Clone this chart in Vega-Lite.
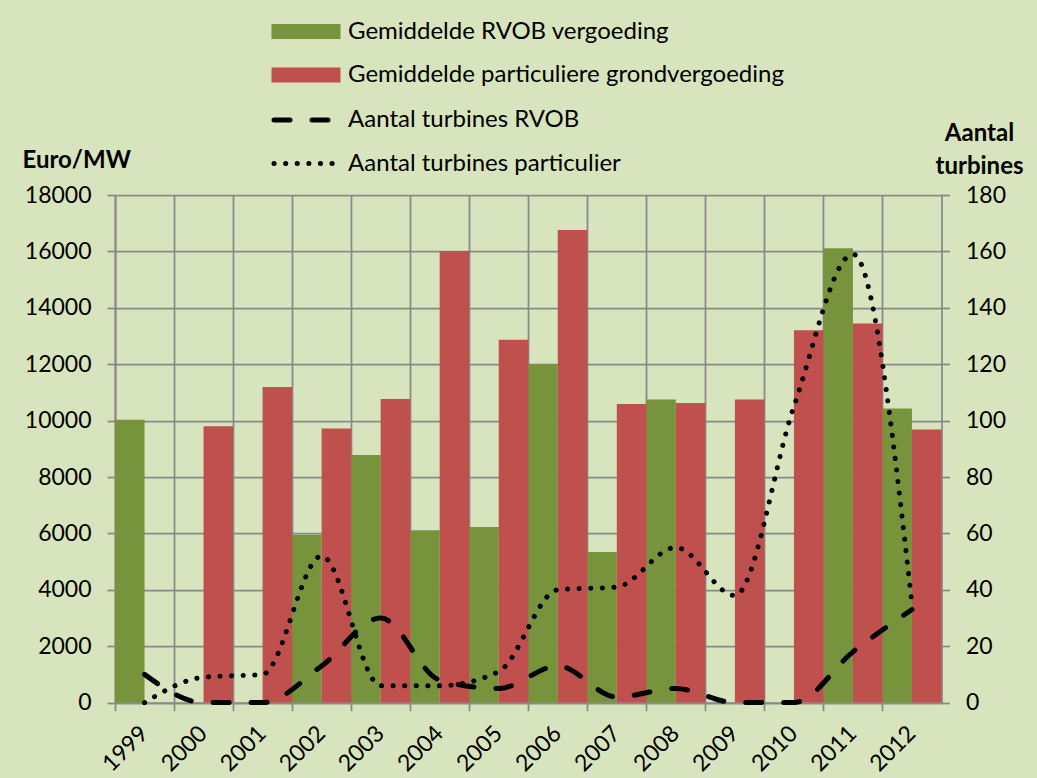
{
  "$schema": "https://vega.github.io/schema/vega-lite/v6.json",
  "width": 826.5,
  "height": 507.6,
  "autosize": "none",
  "padding": {"left": 115, "top": 195, "right": 95.5, "bottom": 75.4},
  "background": "#d7e4bd",
  "config": {
    "font": "Lato",
    "view": {"stroke": null},
    "axis": {
      "domainColor": "#898989",
      "tickColor": "#898989",
      "gridColor": "#898989",
      "domainWidth": 1.75,
      "tickWidth": 1.75,
      "gridWidth": 1.75,
      "gridOpacity": 1,
      "labelColor": "#000000",
      "labelFont": "Lato",
      "labelFontSize": 23,
      "titleColor": "#000000",
      "titleFont": "Lato"
    },
    "legend": {"labelFont": "Lato", "labelColor": "#000000", "labelLimit": 0}
  },
  "datasets": {
    "bars": [
      {"year": "1999", "series": "Gemiddelde RVOB vergoeding", "value": 10030},
      {"year": "2002", "series": "Gemiddelde RVOB vergoeding", "value": 5950},
      {"year": "2003", "series": "Gemiddelde RVOB vergoeding", "value": 8780},
      {"year": "2004", "series": "Gemiddelde RVOB vergoeding", "value": 6110},
      {"year": "2005", "series": "Gemiddelde RVOB vergoeding", "value": 6230},
      {"year": "2006", "series": "Gemiddelde RVOB vergoeding", "value": 12000},
      {"year": "2007", "series": "Gemiddelde RVOB vergoeding", "value": 5340},
      {"year": "2008", "series": "Gemiddelde RVOB vergoeding", "value": 10750},
      {"year": "2011", "series": "Gemiddelde RVOB vergoeding", "value": 16110},
      {"year": "2012", "series": "Gemiddelde RVOB vergoeding", "value": 10430},
      {"year": "2000", "series": "Gemiddelde particuliere grondvergoeding", "value": 9800},
      {"year": "2001", "series": "Gemiddelde particuliere grondvergoeding", "value": 11190},
      {"year": "2002", "series": "Gemiddelde particuliere grondvergoeding", "value": 9720},
      {"year": "2003", "series": "Gemiddelde particuliere grondvergoeding", "value": 10770},
      {"year": "2004", "series": "Gemiddelde particuliere grondvergoeding", "value": 16010},
      {"year": "2005", "series": "Gemiddelde particuliere grondvergoeding", "value": 12870},
      {"year": "2006", "series": "Gemiddelde particuliere grondvergoeding", "value": 16760},
      {"year": "2007", "series": "Gemiddelde particuliere grondvergoeding", "value": 10590},
      {"year": "2008", "series": "Gemiddelde particuliere grondvergoeding", "value": 10620},
      {"year": "2009", "series": "Gemiddelde particuliere grondvergoeding", "value": 10750},
      {"year": "2010", "series": "Gemiddelde particuliere grondvergoeding", "value": 13200},
      {"year": "2011", "series": "Gemiddelde particuliere grondvergoeding", "value": 13440},
      {"year": "2012", "series": "Gemiddelde particuliere grondvergoeding", "value": 9680}
    ],
    "lines": [
      {"year": "1999", "series": "Aantal turbines RVOB", "value": 10},
      {"year": "2000", "series": "Aantal turbines RVOB", "value": 0},
      {"year": "2001", "series": "Aantal turbines RVOB", "value": 0},
      {"year": "2002", "series": "Aantal turbines RVOB", "value": 13},
      {"year": "2003", "series": "Aantal turbines RVOB", "value": 30},
      {"year": "2004", "series": "Aantal turbines RVOB", "value": 8},
      {"year": "2005", "series": "Aantal turbines RVOB", "value": 5},
      {"year": "2006", "series": "Aantal turbines RVOB", "value": 13},
      {"year": "2007", "series": "Aantal turbines RVOB", "value": 2},
      {"year": "2008", "series": "Aantal turbines RVOB", "value": 5},
      {"year": "2009", "series": "Aantal turbines RVOB", "value": 0},
      {"year": "2010", "series": "Aantal turbines RVOB", "value": 0},
      {"year": "2011", "series": "Aantal turbines RVOB", "value": 18},
      {"year": "2012", "series": "Aantal turbines RVOB", "value": 33},
      {"year": "1999", "series": "Aantal turbines particulier", "value": 0},
      {"year": "2000", "series": "Aantal turbines particulier", "value": 9},
      {"year": "2001", "series": "Aantal turbines particulier", "value": 10},
      {"year": "2002", "series": "Aantal turbines particulier", "value": 52},
      {"year": "2003", "series": "Aantal turbines particulier", "value": 6},
      {"year": "2004", "series": "Aantal turbines particulier", "value": 6},
      {"year": "2005", "series": "Aantal turbines particulier", "value": 11},
      {"year": "2006", "series": "Aantal turbines particulier", "value": 40},
      {"year": "2007", "series": "Aantal turbines particulier", "value": 41},
      {"year": "2008", "series": "Aantal turbines particulier", "value": 55},
      {"year": "2009", "series": "Aantal turbines particulier", "value": 38},
      {"year": "2010", "series": "Aantal turbines particulier", "value": 105},
      {"year": "2011", "series": "Aantal turbines particulier", "value": 159},
      {"year": "2012", "series": "Aantal turbines particulier", "value": 35}
    ]
  },
  "layer": [
    {
      "data": {"name": "bars"},
      "mark": {"type": "bar"},
      "encoding": {
        "x": {
          "field": "year",
          "type": "nominal",
          "scale": {"paddingInner": 0, "paddingOuter": 0},
          "axis": {
            "title": null,
            "grid": true,
            "bandPosition": 0,
            "tickSize": 8,
            "labelAngle": -45,
            "labelAlign": "right",
            "labelBaseline": "middle",
            "labelPadding": 19
          }
        },
        "xOffset": {
          "field": "series",
          "type": "nominal",
          "scale": {"domain": ["Gemiddelde RVOB vergoeding", "Gemiddelde particuliere grondvergoeding"], "paddingInner": 0, "paddingOuter": 0}
        },
        "y": {
          "field": "value",
          "type": "quantitative",
          "scale": {"domain": [0, 18000], "nice": false},
          "axis": {
            "values": [0, 2000, 4000, 6000, 8000, 10000, 12000, 14000, 16000, 18000],
            "format": "d",
            "grid": true,
            "tickSize": 8,
            "labelPadding": 16,
            "title": "Euro/MW",
            "titleAngle": 0,
            "titleFontSize": 24,
            "titleFontWeight": "bold",
            "titleAlign": "left",
            "titleBaseline": "middle",
            "titleX": -93,
            "titleY": -35
          }
        },
        "color": {
          "field": "series",
          "type": "nominal",
          "scale": {
            "domain": ["Gemiddelde RVOB vergoeding", "Gemiddelde particuliere grondvergoeding"],
            "range": ["#77933c", "#c0504d"]
          },
          "legend": {
            "title": null,
            "orient": "none",
            "legendX": 179,
            "legendY": -175.5,
            "direction": "vertical",
            "symbolType": "M-4.3125,-0.9375H4.3125V0.9375H-4.3125Z",
            "symbolSize": 256,
            "symbolStrokeWidth": 0,
            "symbolOpacity": 1,
            "labelFontSize": 24,
            "labelOffset": 30,
            "rowPadding": 19.5
          }
        }
      }
    },
    {
      "data": {"name": "lines"},
      "mark": {"type": "line", "interpolate": "monotone", "color": "#000000", "strokeWidth": 5, "strokeCap": "round"},
      "encoding": {
        "x": {"field": "year", "type": "nominal"},
        "y": {
          "field": "value",
          "type": "quantitative",
          "scale": {"domain": [0, 180], "nice": false},
          "axis": {
            "orient": "right",
            "values": [0, 20, 40, 60, 80, 100, 120, 140, 160, 180],
            "grid": false,
            "tickSize": 8,
            "labelPadding": 16,
            "title": ["Aantal", "turbines"],
            "titleAngle": 0,
            "titleFontSize": 24,
            "titleFontWeight": "bold",
            "titleAlign": "center",
            "titleBaseline": "top",
            "titleLineHeight": 33,
            "titleX": 37.5,
            "titleY": -74
          }
        },
        "strokeDash": {
          "field": "series",
          "type": "nominal",
          "scale": {
            "domain": ["Aantal turbines RVOB", "Aantal turbines particulier"],
            "range": [[16, 22], [0.1, 11.5]]
          },
          "legend": {
            "title": null,
            "orient": "none",
            "legendX": 179,
            "legendY": -87,
            "direction": "vertical",
            "symbolType": "M-4,0H4",
            "symbolSize": 256,
            "symbolStrokeWidth": 5,
            "symbolStrokeColor": "#000000",
            "symbolFillColor": "transparent",
            "labelFontSize": 24,
            "labelOffset": 30,
            "rowPadding": 19.5,
            "encode": {"symbols": {"update": {"strokeCap": {"value": "round"}}}}
          }
        }
      }
    }
  ],
  "resolve": {"scale": {"y": "independent"}}
}
